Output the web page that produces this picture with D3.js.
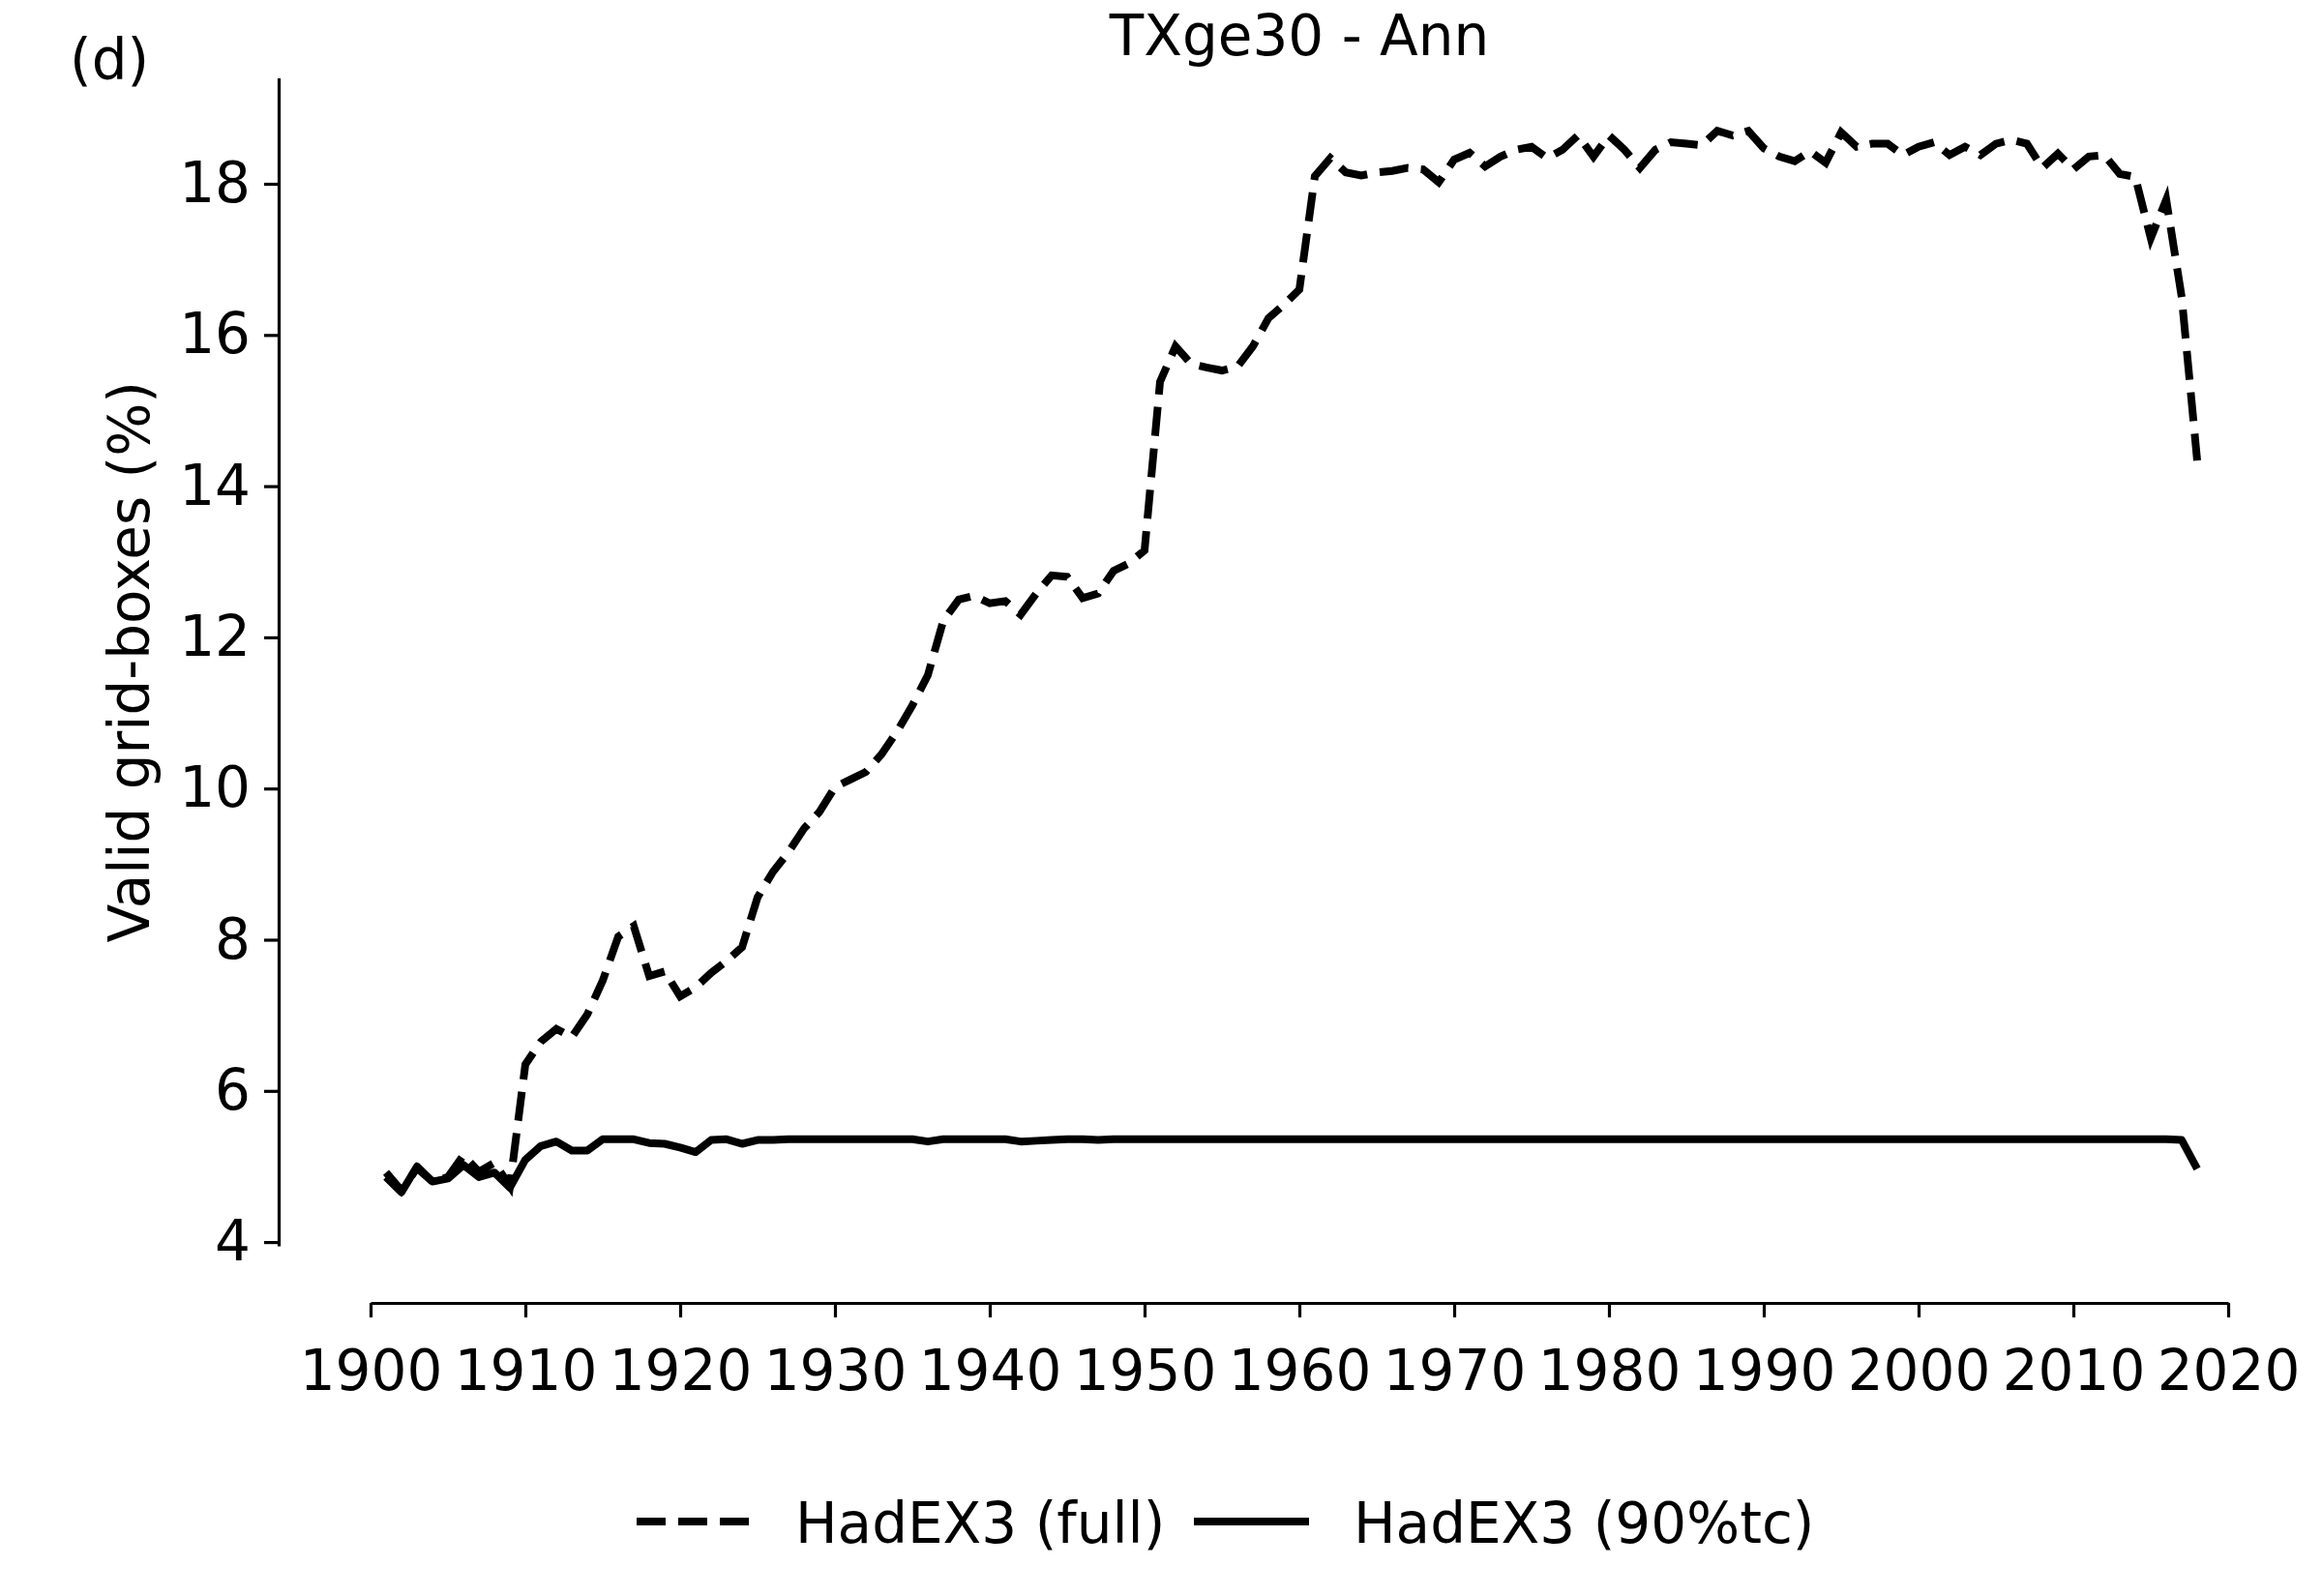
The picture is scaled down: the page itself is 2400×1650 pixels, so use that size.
<!DOCTYPE html>
<html>
<head>
<meta charset="utf-8">
<script src="https://cdn.jsdelivr.net/npm/d3@7"></script>
<style>
  body { margin: 0; background: #fff; }
  svg text { font-family: "DejaVu Sans", sans-serif; fill: #000; }
</style>
</head>
<body>
<svg id="chart" width="2400" height="1650"></svg>
<script>
// years 1901-2018
const years = d3.range(1901, 2019);

// HadEX3 (full), % of valid grid-boxes
const fullValues = [
  4.92, 4.68, 4.98, 4.80, 4.86, 5.15, 4.93, 5.05, 4.74, 6.35,
  6.65, 6.82, 6.71, 7.01, 7.46, 8.04, 8.18, 7.52, 7.58, 7.25,
  7.37, 7.56, 7.72, 7.90, 8.56, 8.90, 9.16, 9.47, 9.69, 10.02,
  10.12, 10.22, 10.45, 10.75, 11.10, 11.50, 12.22, 12.50, 12.55, 12.45,
  12.48, 12.30, 12.58, 12.82, 12.80, 12.52, 12.58, 12.88, 12.98, 13.15,
  15.38, 15.85, 15.62, 15.57, 15.53, 15.58, 15.85, 16.22, 16.40, 16.60,
  18.10, 18.34, 18.15, 18.11, 18.15, 18.17, 18.21, 18.19, 18.02, 18.32,
  18.41, 18.23, 18.36, 18.45, 18.49, 18.34, 18.45, 18.64, 18.36, 18.64,
  18.45, 18.21, 18.45, 18.55, 18.53, 18.51, 18.70, 18.64, 18.70, 18.47,
  18.36, 18.30, 18.43, 18.28, 18.68, 18.49, 18.53, 18.53, 18.38, 18.49,
  18.55, 18.38, 18.49, 18.38, 18.53, 18.58, 18.53, 18.21, 18.40, 18.19,
  18.36, 18.38, 18.13, 18.09, 17.28, 17.79, 16.50, 14.34
];

// HadEX3 (90%tc)
const tcValues = [
  4.86, 4.66, 5.00, 4.80, 4.84, 5.02, 4.86, 4.92, 4.72, 5.09,
  5.27, 5.33, 5.21, 5.21, 5.36, 5.36, 5.36, 5.31, 5.30, 5.25,
  5.19, 5.35, 5.36, 5.30, 5.35, 5.35, 5.36, 5.36, 5.36, 5.36,
  5.36, 5.36, 5.36, 5.36, 5.36, 5.33, 5.36, 5.36, 5.36, 5.36,
  5.36, 5.33, 5.34, 5.35, 5.36, 5.36, 5.35, 5.36, 5.36, 5.36,
  5.36, 5.36, 5.36, 5.36, 5.36, 5.36, 5.36, 5.36, 5.36, 5.36,
  5.36, 5.36, 5.36, 5.36, 5.36, 5.36, 5.36, 5.36, 5.36, 5.36,
  5.36, 5.36, 5.36, 5.36, 5.36, 5.36, 5.36, 5.36, 5.36, 5.36,
  5.36, 5.36, 5.36, 5.36, 5.36, 5.36, 5.36, 5.36, 5.36, 5.36,
  5.36, 5.36, 5.36, 5.36, 5.36, 5.36, 5.36, 5.36, 5.36, 5.36,
  5.36, 5.36, 5.36, 5.36, 5.36, 5.36, 5.36, 5.36, 5.36, 5.36,
  5.36, 5.36, 5.36, 5.36, 5.36, 5.36, 5.35, 4.97
];

const xTicks = d3.range(1900, 2021, 10);
const yTicks = [4, 6, 8, 10, 12, 14, 16, 18];
const seriesNames = ['HadEX3 (full)', 'HadEX3 (90%tc)'];

const svg = d3.select('#chart');
const fontSize = 58;
const lineWidth = 8;
const dash = '30,13';

// scales
const x = d3.scaleLinear().domain([1900, 2020]).range([383, 2303]);
const y = d3.scaleLinear().domain([3.95, 19.4]).range([1288, 80.6]);

// axes (spines offset away from the data area)
const xAxisY = 1347;
const yAxisX = 288;

const xAxis = svg.append('g')
  .attr('transform', `translate(0,${xAxisY})`)
  .call(d3.axisBottom(x).tickValues(xTicks).tickFormat(d3.format('d'))
    .tickSize(15).tickSizeOuter(0).tickPadding(34));

const yAxis = svg.append('g')
  .attr('transform', `translate(${yAxisX},0)`)
  .call(d3.axisLeft(y).tickValues(yTicks).tickSize(15).tickSizeOuter(0).tickPadding(14));

[xAxis, yAxis].forEach(g => {
  g.select('.domain').attr('stroke', '#000').attr('stroke-width', 3.2);
  g.selectAll('.tick line').attr('stroke', '#000').attr('stroke-width', 3.2);
  g.selectAll('.tick text')
    .attr('font-size', fontSize)
    .attr('font-family', '"DejaVu Sans", sans-serif')
    .attr('fill', '#000');
});

// lines
const line = d3.line()
  .x((d, i) => x(years[i]))
  .y(d => y(d));

svg.append('path')
  .datum(fullValues)
  .attr('d', line)
  .attr('fill', 'none')
  .attr('stroke', '#000')
  .attr('stroke-width', lineWidth)
  .attr('stroke-dasharray', dash);

svg.append('path')
  .datum(tcValues)
  .attr('d', line)
  .attr('fill', 'none')
  .attr('stroke', '#000')
  .attr('stroke-width', lineWidth)
  .attr('stroke-linejoin', 'round');

// title, panel letter, y label
svg.append('text')
  .attr('x', (x.range()[0] + x.range()[1]) / 2)
  .attr('y', 57)
  .attr('text-anchor', 'middle')
  .attr('font-size', fontSize)
  .text('TXge30 - Ann');

svg.append('text')
  .attr('x', 72)
  .attr('y', 82)
  .attr('font-size', fontSize)
  .text('(d)');

svg.append('text')
  .attr('transform', `translate(154,${(y.range()[0] + y.range()[1]) / 2}) rotate(-90)`)
  .attr('text-anchor', 'middle')
  .attr('font-size', fontSize)
  .text('Valid grid-boxes (%)');

// legend
const legendY = 1573;
const legendItems = [
  { name: seriesNames[0], x0: 658, x1: 781, tx: 822, dash: dash },
  { name: seriesNames[1], x0: 1234, x1: 1353, tx: 1399, dash: null }
];

const legend = svg.append('g');
legendItems.forEach(item => {
  legend.append('line')
    .attr('x1', item.x0).attr('x2', item.x1)
    .attr('y1', legendY).attr('y2', legendY)
    .attr('stroke', '#000')
    .attr('stroke-width', lineWidth)
    .attr('stroke-dasharray', item.dash);
  legend.append('text')
    .attr('x', item.tx)
    .attr('y', legendY + 22)
    .attr('font-size', fontSize)
    .text(item.name);
});
</script>
</body>
</html>
